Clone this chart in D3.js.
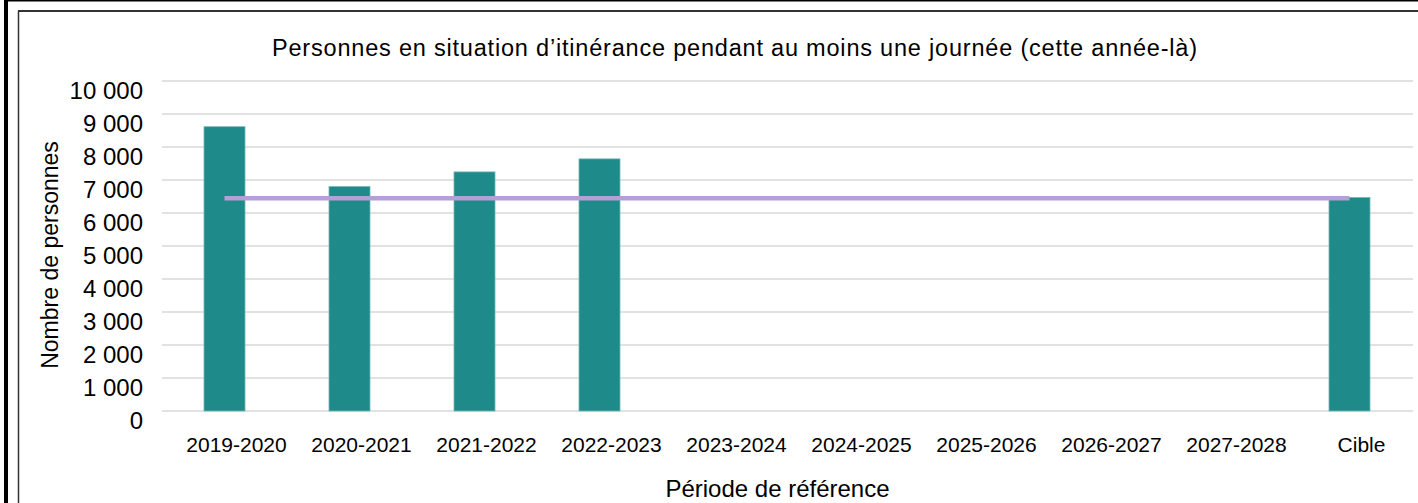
<!DOCTYPE html>
<html>
<head>
<meta charset="utf-8">
<script src="https://cdn.jsdelivr.net/npm/d3@7"></script>
<style>
  html, body { margin: 0; padding: 0; background: #fff; }
  svg { display: block; font-family: "Liberation Sans", Arial, sans-serif; }
</style>
</head>
<body>
<svg id="chart" width="1418" height="503"></svg>
<script>
const categories = ["2019-2020", "2020-2021", "2021-2022", "2022-2023", "2023-2024", "2024-2025", "2025-2026", "2026-2027", "2027-2028", "Cible"];
const values = [8615, 6800, 7245, 7640, null, null, null, null, null, 6470];
const targetValues = [6450, 6450, 6450, 6450, 6450, 6450, 6450, 6450, 6450, 6450];
const yTicks = [0, 1000, 2000, 3000, 4000, 5000, 6000, 7000, 8000, 9000, 10000];
const chartTitle = "Personnes en situation d’itinérance pendant au moins une journée (cette année-là)";
const xTitle = "Période de référence";
const yTitle = "Nombre de personnes";

(function () {
const svg = d3.select("#chart");
const W = 1418, H = 503;
const pLeft = 162, pRight = 1412, pTop = 81, pBottom = 411;

// frames
svg.append("rect").attr("x", 0).attr("y", 0).attr("width", W).attr("height", H).attr("fill", "#fff");
svg.append("line").attr("x1", 4).attr("x2", W).attr("y1", 0.5).attr("y2", 0.5).attr("stroke", "#000").attr("stroke-width", 2);
svg.append("line").attr("x1", 6).attr("x2", 6).attr("y1", 0).attr("y2", H).attr("stroke", "#000").attr("stroke-width", 4);
svg.append("line").attr("x1", 18).attr("x2", W).attr("y1", 11).attr("y2", 11).attr("stroke", "#333").attr("stroke-width", 2);
svg.append("line").attr("x1", 18.5).attr("x2", 18.5).attr("y1", 11).attr("y2", H).attr("stroke", "#333").attr("stroke-width", 1.5);

const x = d3.scaleBand().domain(categories).range([pLeft, pRight]).paddingInner(0.672).paddingOuter(0.336);
const y = d3.scaleLinear().domain([0, 10000]).range([pBottom, pTop]);
const fr = d3.formatLocale({decimal: ",", thousands: "\u00a0", grouping: [3], currency: ["", " €"]});
const fmt = fr.format(",d");

// gridlines
svg.append("g").selectAll("line").data(yTicks).join("line")
  .attr("x1", pLeft).attr("x2", 1413)
  .attr("y1", d => y(d)).attr("y2", d => y(d))
  .attr("stroke", "#d9d9d9").attr("stroke-width", 1.5);

// y tick labels
svg.append("g").selectAll("text").data(yTicks).join("text")
  .attr("x", 143).attr("y", d => y(d) + 17.5)
  .attr("text-anchor", "end").attr("font-size", 24).attr("fill", "#000")
  .text(d => fmt(d));

// x tick labels
svg.append("g").selectAll("text").data(categories).join("text")
  .attr("x", d => x(d) + x.bandwidth() / 2 + 12).attr("y", 452)
  .attr("text-anchor", "middle").attr("font-size", 21).attr("fill", "#000")
  .text(d => d);

// bars
const barData = categories.map((c, i) => ({c, v: values[i]})).filter(d => d.v != null);
svg.append("g").selectAll("rect").data(barData).join("rect")
  .attr("x", d => x(d.c)).attr("width", x.bandwidth())
  .attr("y", d => y(d.v)).attr("height", d => y(0) - y(d.v))
  .attr("fill", "#1e8a89").attr("stroke", "#6fb8b6").attr("stroke-width", 0.8);

// target line
const lineData = categories.map((c, i) => ({c, v: targetValues[i]}));
svg.append("path").datum(lineData)
  .attr("d", d3.line().x(d => x(d.c) + x.bandwidth() / 2).y(d => y(d.v)))
  .attr("fill", "none").attr("stroke", "#b49fd6").attr("stroke-width", 4.5);

// titles
svg.append("text").attr("x", 272).attr("y", 56)
  .attr("font-size", 23.5).attr("fill", "#000")
  .attr("textLength", 925).attr("lengthAdjust", "spacing")
  .text(chartTitle);

svg.append("text").attr("x", 777.5).attr("y", 497)
  .attr("text-anchor", "middle").attr("font-size", 24).attr("fill", "#000")
  .text(xTitle);

svg.append("text").attr("transform", "translate(58,255) rotate(-90)")
  .attr("text-anchor", "middle").attr("font-size", 23).attr("fill", "#000")
  .text(yTitle);
})();
</script>
</body>
</html>
